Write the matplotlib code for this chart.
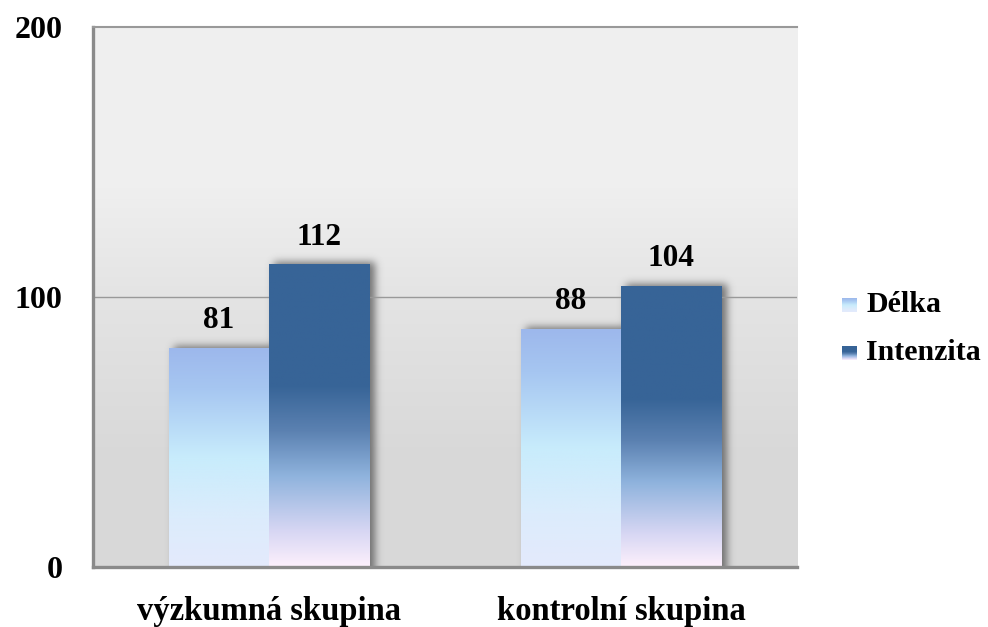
import numpy as np
import matplotlib
matplotlib.use("Agg")
import matplotlib.pyplot as plt
from matplotlib.colors import LinearSegmentedColormap

plt.rcParams['font.family'] = ['Liberation Serif', 'DejaVu Serif']
plt.rcParams['font.weight'] = 'bold'

# data
skupiny = ['výzkumná skupina', 'kontrolní skupina']
serie = ['Délka', 'Intenzita']
delka = [81, 88]
intenzita = [112, 104]
y_ticks = [0, 100, 200]

# gradient fills (0 = top of bar, 1 = bottom)
cm_delka = LinearSegmentedColormap.from_list('delka', [
    (0.0, '#9db8ec'), (0.18, '#a6c6f1'), (0.5, '#c8ecfc'),
    (0.78, '#dcecfc'), (1.0, '#e4eafc')])
cm_int = LinearSegmentedColormap.from_list('int', [
    (0.0, '#376497'), (0.40, '#376497'), (0.55, '#5b81b1'),
    (0.70, '#8fb3dd'), (0.88, '#d6d6f3'), (1.0, '#fdf0fc')])
cm_bg = LinearSegmentedColormap.from_list('bg', [
    (0.0, '#f0f0f0'), (0.30, '#efefef'), (0.50, '#e4e4e4'),
    (0.78, '#d9d9d9'), (1.0, '#d8d8d8')])

fig = plt.figure(figsize=(9.88, 6.27), dpi=100)
ax = fig.add_axes([93 / 988, 60 / 627, 704 / 988, 540 / 627])
ax.set_xlim(-0.5, 1.5)
ax.set_ylim(0, 200)
ax.set_facecolor('none')

# background gradient
grad = np.linspace(0, 1, 256).reshape(-1, 1)
ax.imshow(grad, cmap=cm_bg, aspect='auto', extent=(-0.5, 1.5, 0, 200),
          origin='upper', zorder=0)

x = np.arange(len(skupiny))
w = 0.285
pozice = [x - w / 2, x + w / 2]
hodnoty = [delka, intenzita]
mapy = [cm_delka, cm_int]

# soft shadow behind bars
W, H = 705, 600
xs = np.linspace(-0.5, 1.5, W)
ys = np.linspace(-22, 200, H)
px = 2 / 705
py = 200 / 540
mask = np.zeros((H, W))
for pos, vals in zip(pozice, hodnoty):
    for xc, v in zip(pos, vals):
        l, r = xc - w / 2 + 5 * px, xc + w / 2 + 5 * px
        cols = (xs >= l) & (xs <= r)
        rows = ys <= v + 2 * py
        mask[np.ix_(rows, cols)] = 1
k = np.exp(-0.5 * (np.arange(-15, 16) / 4.0) ** 2)
k /= k.sum()
blur = np.apply_along_axis(lambda m: np.convolve(m, k, mode='same'), 1, mask)
blur = np.apply_along_axis(lambda m: np.convolve(m, k, mode='same'), 0, blur)
stin = np.zeros((H, W, 4))
stin[..., :3] = 0.3
stin[..., 3] = blur * 0.75
ax.imshow(stin, aspect='auto', extent=(-0.5, 1.5, -22, 200), origin='lower',
          zorder=1)

for pos, vals, cm in zip(pozice, hodnoty, mapy):
    for xc, v in zip(pos, vals):
        ax.imshow(grad, cmap=cm, aspect='auto', origin='upper',
                  extent=(xc - w / 2, xc + w / 2, 0, v), zorder=2)
        ax.text(xc, v + 4.8, str(v), ha='center', va='bottom',
                fontsize=22.5, fontweight='bold', zorder=4)

ax.set_xlim(-0.5, 1.5)
ax.set_ylim(0, 200)

ax.axhline(100, color='#999999', lw=1.0, zorder=1.5)

ax.set_xticks(x)
ax.set_xticklabels(skupiny, fontsize=23.5, fontweight='bold')
ax.set_yticks(y_ticks)
ax.set_yticklabels([str(t) for t in y_ticks], fontsize=23, fontweight='bold')
ax.tick_params(axis='both', length=0)
ax.tick_params(axis='y', pad=22)
ax.tick_params(axis='x', pad=21)

for s in ['left', 'bottom']:
    ax.spines[s].set_color('#8a8a8a')
    ax.spines[s].set_linewidth(2.4)
ax.spines['top'].set_color('#999999')
ax.spines['top'].set_linewidth(1.5)
ax.spines['right'].set_visible(False)

# legend
for i, (nazev, cm) in enumerate(zip(serie, mapy)):
    y0 = 627 - 312 - i * 48
    la = fig.add_axes([842 / 988, y0 / 627, 15 / 988, 14 / 627])
    la.imshow(grad, cmap=cm, aspect='auto')
    la.axis('off')
    fig.text(866 / 988, (y0 + 7) / 627, nazev, fontsize=21.5,
             fontweight='bold', va='center', ha='left')

fig.savefig('out.png', dpi=100, facecolor='white')
